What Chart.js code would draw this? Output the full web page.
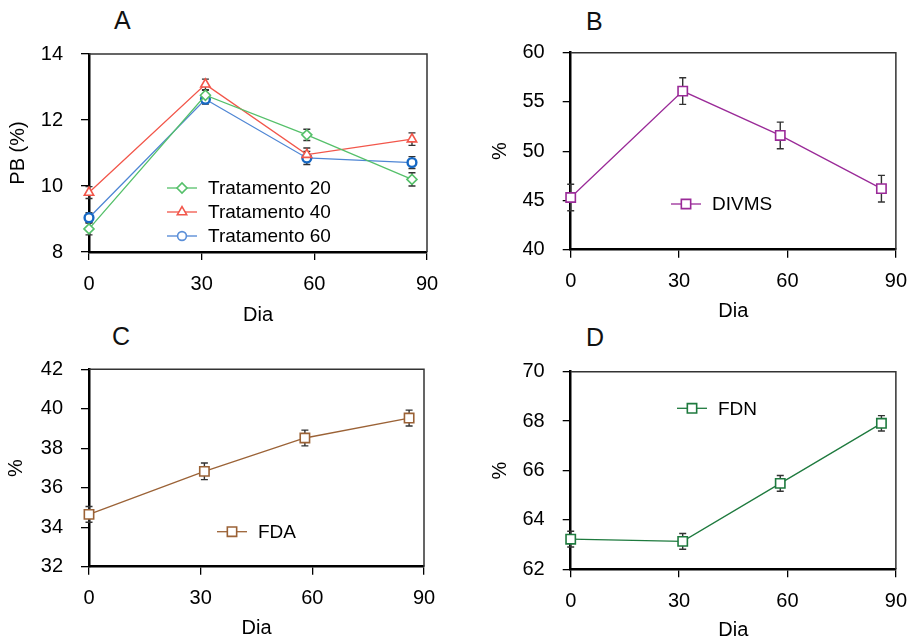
<!DOCTYPE html>
<html lang="pt">
<head>
  <meta charset="UTF-8" />
  <title>PB, DIVMS, FDA e FDN ao longo dos dias</title>
  <script src="https://cdn.jsdelivr.net/npm/chart.js"></script>
  <style>
    body {
      margin: 0;
      width: 919px;
      height: 640px;
      overflow: hidden;
      position: relative;
      background: #fff;
      font-family: "Liberation Sans", Arial, sans-serif;
    }
    canvas { position: absolute; }
    .letter {
      position: absolute;
      font-size: 25px;
      line-height: 25px;
      color: #111;
    }
  </style>
</head>
<body>
  <div class="letter" style="left:114px; top:8px;">A</div>
  <div class="letter" style="left:586px; top:9px;">B</div>
  <div class="letter" style="left:112px; top:324px;">C</div>
  <div class="letter" style="left:586px; top:325px;">D</div>

  <canvas id="chartA" width="460" height="330" style="left:0; top:0;"></canvas>
  <canvas id="chartB" width="459" height="330" style="left:460px; top:0;"></canvas>
  <canvas id="chartC" width="460" height="322" style="left:0; top:320px;"></canvas>
  <canvas id="chartD" width="459" height="322" style="left:460px; top:320px;"></canvas>

  <script>
    // dias de coleta e marcas do eixo x
    const days = [0, 31, 58, 86];
    const xTicks = [0, 30, 60, 90];

    // A - PB (%)
    const pbT20 = [8.70, 12.75, 11.55, 10.20];
    const pbT20Err = [0.18, 0.15, 0.17, 0.20];
    const pbT40 = [9.80, 13.08, 10.95, 11.42];
    const pbT40Err = [0.18, 0.16, 0.20, 0.19];
    const pbT60 = [9.04, 12.63, 10.85, 10.71];
    const pbT60Err = [0.15, 0.15, 0.20, 0.18];
    const pbTicks = [8, 10, 12, 14];

    // B - DIVMS
    const divms = [45.3, 56.1, 51.6, 46.2];
    const divmsErr = [1.35, 1.35, 1.35, 1.35];
    const divmsTicks = [40, 45, 50, 55, 60];

    // C - FDA
    const fda = [34.65, 36.83, 38.52, 39.53];
    const fdaErr = [0.40, 0.42, 0.40, 0.40];
    const fdaTicks = [32, 34, 36, 38, 40, 42];

    // D - FDN
    const fdn = [63.22, 63.13, 65.48, 67.91];
    const fdnErr = [0.32, 0.32, 0.32, 0.31];
    const fdnTicks = [62, 64, 66, 68, 70];

    Chart.defaults.font.family = '"Liberation Sans", Arial, sans-serif';
    Chart.defaults.color = '#000';

    const FONT = 20;
    const HALF_LINE = FONT * 1.2 / 2;

    const toPoints = vals => days.map((d, i) => ({ x: d, y: vals[i] }));

    // barras de erro, atrás dos marcadores
    const errorBars = {
      id: 'errorBars',
      beforeDatasetsDraw(chart) {
        const { ctx, scales: { y } } = chart;
        ctx.save();
        ctx.strokeStyle = '#333';
        ctx.lineWidth = 1.4;
        chart.data.datasets.forEach((ds, i) => {
          const meta = chart.getDatasetMeta(i);
          ds.errors.forEach((e, j) => {
            const pt = meta.data[j];
            const v = ds.data[j].y;
            const top = y.getPixelForValue(v + e);
            const bot = y.getPixelForValue(v - e);
            ctx.beginPath();
            ctx.moveTo(pt.x, top); ctx.lineTo(pt.x, bot);
            ctx.moveTo(pt.x - 3.5, top); ctx.lineTo(pt.x + 3.5, top);
            ctx.moveTo(pt.x - 3.5, bot); ctx.lineTo(pt.x + 3.5, bot);
            ctx.stroke();
          });
        });
        ctx.restore();
      }
    };

    // moldura superior e direita
    const frame = {
      id: 'frame',
      beforeDatasetsDraw(chart) {
        const { ctx, chartArea: a } = chart;
        ctx.save();
        ctx.strokeStyle = '#333';
        ctx.lineWidth = 1.5;
        ctx.beginPath();
        ctx.moveTo(a.left, a.top);
        ctx.lineTo(a.right, a.top);
        ctx.lineTo(a.right, a.bottom);
        ctx.stroke();
        ctx.restore();
      }
    };

    // legenda dentro da área do gráfico: linha + marcador + texto
    const insideLegend = {
      id: 'insideLegend',
      afterDatasetsDraw(chart, args, opts) {
        const { ctx } = chart;
        ctx.save();
        chart.data.datasets.forEach((ds, i) => {
          const y = opts.y + i * opts.gap;
          ctx.strokeStyle = ds.borderColor;
          ctx.lineWidth = ds.borderWidth;
          ctx.beginPath();
          ctx.moveTo(opts.x, y);
          ctx.lineTo(opts.x + 30, y);
          ctx.stroke();
          ctx.fillStyle = '#fff';
          ctx.strokeStyle = ds.legendColor || ds.pointBorderColor;
          ctx.lineWidth = ds.legendBorder || ds.pointBorderWidth;
          Chart.helpers.drawPoint(ctx, {
            pointStyle: ds.pointStyle, radius: ds.pointRadius, rotation: 0,
            borderWidth: ctx.lineWidth
          }, opts.x + 15, y);
          ctx.fillStyle = '#000';
          ctx.font = '19px "Liberation Sans", Arial, sans-serif';
          ctx.textBaseline = 'middle';
          ctx.fillText(ds.label, opts.x + 41, y + 1);
        });
        ctx.restore();
      }
    };

    function series(label, vals, errs, color, style, radius, extra) {
      return Object.assign({
        label,
        data: toPoints(vals),
        errors: errs,
        borderColor: color,
        borderWidth: 1.3,
        pointStyle: style,
        pointRadius: radius,
        pointBorderColor: color,
        pointBackgroundColor: '#fff',
        pointBorderWidth: 1.6,
        clip: false
      }, extra || {});
    }

    function panel(id, p) {
      const canvas = document.getElementById(id);
      const w = canvas.width, h = canvas.height;
      const [L, T, R, B] = p.area;
      new Chart(canvas, {
        type: 'line',
        data: { datasets: p.datasets },
        options: {
          responsive: false,
          animation: false,
          layout: { padding: { left: 0, top: T, right: w - R, bottom: 0 } },
          plugins: {
            legend: { display: false },
            tooltip: { enabled: false },
            insideLegend: p.legend
          },
          scales: {
            x: {
              type: 'linear',
              min: 0, max: 90,
              afterFit(s) { s.height = h - B; },
              afterBuildTicks(s) { s.ticks = xTicks.map(v => ({ value: v })); },
              ticks: { padding: 12, maxRotation: 0, autoSkip: false, font: { size: FONT } },
              grid: { drawOnChartArea: false, drawTicks: true, tickLength: 8, color: '#000', lineWidth: 1.3 },
              border: { display: true, color: '#000', width: 2.5 },
              title: {
                display: true, text: 'Dia', font: { size: FONT },
                padding: { top: 0, bottom: Math.max(0, h - p.xTitleY - HALF_LINE) }
              }
            },
            y: {
              min: p.yTicks[0], max: p.yTicks[p.yTicks.length - 1],
              afterFit(s) { s.width = L; },
              afterBuildTicks(s) { s.ticks = p.yTicks.map(v => ({ value: v })); },
              ticks: { padding: 18, font: { size: FONT } },
              grid: { drawOnChartArea: false, drawTicks: true, tickLength: 8, color: '#000', lineWidth: 1.3 },
              border: { display: true, color: '#000', width: 2.5 },
              title: {
                display: true, text: p.yTitle, font: { size: FONT },
                padding: { top: p.yTitleX - HALF_LINE, bottom: 0 }
              }
            }
          }
        },
        plugins: [frame, errorBars, insideLegend]
      });
    }

    panel('chartA', {
      area: [89, 54, 427, 252], xTitleY: 315, yTitleX: 18, yTitle: 'PB (%)', yTicks: pbTicks,
      legend: { x: 167, y: 188, gap: 24 },
      datasets: [
        series('Tratamento 20', pbT20, pbT20Err, '#55c06a', 'rectRot', 5),
        series('Tratamento 40', pbT40, pbT40Err, '#f2564a', 'triangle', 5.4),
        series('Tratamento 60', pbT60, pbT60Err, '#4f86d4', 'circle', 4.4,
          { pointBorderColor: '#1668c4', pointBorderWidth: 2.4, legendColor: '#5b8fd8', legendBorder: 1.6 })
      ]
    });

    panel('chartB', {
      area: [110.7, 52.7, 445.3, 249.7], xTitleY: 311.7, yTitleX: 40, yTitle: '%', yTicks: divmsTicks,
      legend: { x: 211, y: 204, gap: 24 },
      datasets: [series('DIVMS', divms, divmsErr, '#9a2a98', 'rect', 6.6)]
    });

    panel('chartC', {
      area: [89, 49.3, 424, 246.7], xTitleY: 308.3, yTitleX: 16.7, yTitle: '%', yTicks: fdaTicks,
      legend: { x: 217, y: 211.7, gap: 24 },
      datasets: [series('FDA', fda, fdaErr, '#9b6236', 'rect', 6.6)]
    });

    panel('chartD', {
      area: [110.7, 51.7, 446, 249.3], xTitleY: 310.7, yTitleX: 40, yTitle: '%', yTicks: fdnTicks,
      legend: { x: 217, y: 88.3, gap: 24 },
      datasets: [series('FDN', fdn, fdnErr, '#1e7a3e', 'rect', 6.6)]
    });
  </script>
</body>
</html>
